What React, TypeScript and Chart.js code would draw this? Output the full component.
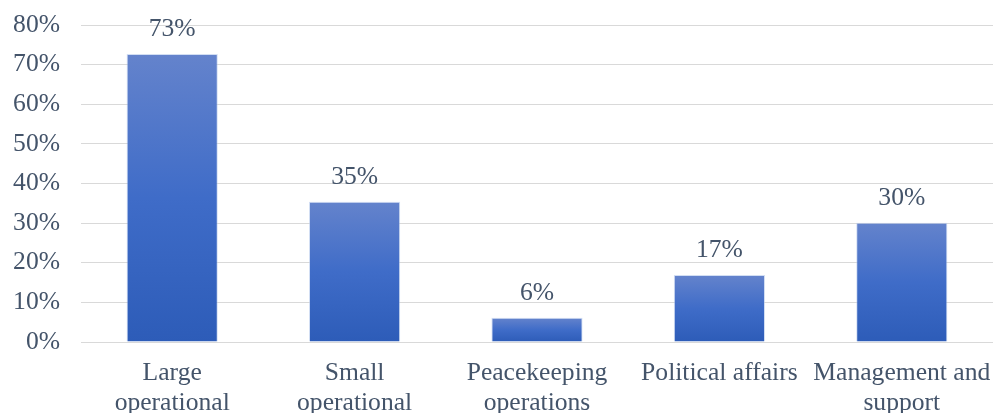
import React, { useEffect, useRef } from "react";
import { Chart, registerables } from "chart.js";

Chart.register(...registerables);

const categories: (string | string[])[] = [
  ["Large", "operational"],
  ["Small", "operational"],
  ["Peacekeeping", "operations"],
  "Political affairs",
  ["Management and", "support"],
];
const values: number[] = [72.7, 35.4, 6.1, 16.9, 30.1];
const valueLabels: string[] = ["73%", "35%", "6%", "17%", "30%"];

const TEXT = "#44546A";
const FONT = "'Liberation Serif', 'Times New Roman', serif";
const FS = 25.6;

const labelPlugin = {
  id: "valueLabels",
  afterDatasetsDraw(chart: any) {
    const ctx = chart.ctx;
    const meta = chart.getDatasetMeta(0);
    ctx.save();
    ctx.fillStyle = TEXT;
    ctx.font = `${FS}px ${FONT}`;
    ctx.textAlign = "center";
    ctx.textBaseline = "alphabetic";
    meta.data.forEach((bar: any, i: number) => {
      ctx.fillText(valueLabels[i], bar.x, bar.y - 18);
    });
    ctx.restore();
  },
};

export default function App() {
  const ref = useRef<HTMLCanvasElement>(null);
  useEffect(() => {
    if (!ref.current) return;
    const chart = new Chart(ref.current, {
      type: "bar",
      data: {
        labels: categories,
        datasets: [
          {
            data: values,
            backgroundColor: (c: any) => {
              const ch = c.chart;
              const y = ch.scales?.y;
              if (!y || !ch.chartArea || typeof c.raw !== "number") return "#3F6CC8";
              const top = y.getPixelForValue(c.raw);
              const bottom = y.getPixelForValue(0);
              if (!isFinite(top) || !isFinite(bottom) || top === bottom) return "#3F6CC8";
              const g = ch.ctx.createLinearGradient(0, top, 0, bottom);
              g.addColorStop(0, "#6483CC");
              g.addColorStop(0.5, "#3F6CC8");
              g.addColorStop(1, "#2D5CB8");
              return g;
            },
            borderColor: "rgba(180,200,235,0.6)",
            borderWidth: 1,
            categoryPercentage: 1,
            barPercentage: 0.5,
          },
        ],
      },
      options: {
        animation: false,
        responsive: false,
        maintainAspectRatio: false,
        layout: { padding: { top: 25, left: 10, right: 0, bottom: 0 } },
        plugins: { legend: { display: false }, tooltip: { enabled: false } },
        scales: {
          y: {
            min: 0,
            max: 80,
            ticks: {
              stepSize: 10,
              callback: (v: any) => v + "%",
              color: TEXT,
              font: { family: FONT, size: FS },
              padding: 21,
            },
            grid: { color: "#D9D9D9", drawTicks: false },
            border: { display: false },
            afterFit: (s: any) => {
              s.width = 71;
              s.paddingTop = 0;
              s.paddingBottom = 0;
            },
          },
          x: {
            ticks: {
              color: TEXT,
              font: { family: FONT, size: FS, lineHeight: 1.18 },
              padding: 8,
              maxRotation: 0,
              autoSkip: false,
            },
            grid: { display: false },
            border: { color: "#D9D9D9", width: 1 },
            afterFit: (s: any) => {
              s.height = 71;
              s.paddingLeft = 0;
              s.paddingRight = 0;
            },
          },
        },
      },
      plugins: [labelPlugin],
    });
    return () => chart.destroy();
  }, []);
  return (
    <div style={{ position: "absolute", left: 0, top: 0, width: 993, height: 413, background: "#fff" }}>
      <canvas ref={ref} width={993} height={413} style={{ width: 993, height: 413 }} />
    </div>
  );
}
